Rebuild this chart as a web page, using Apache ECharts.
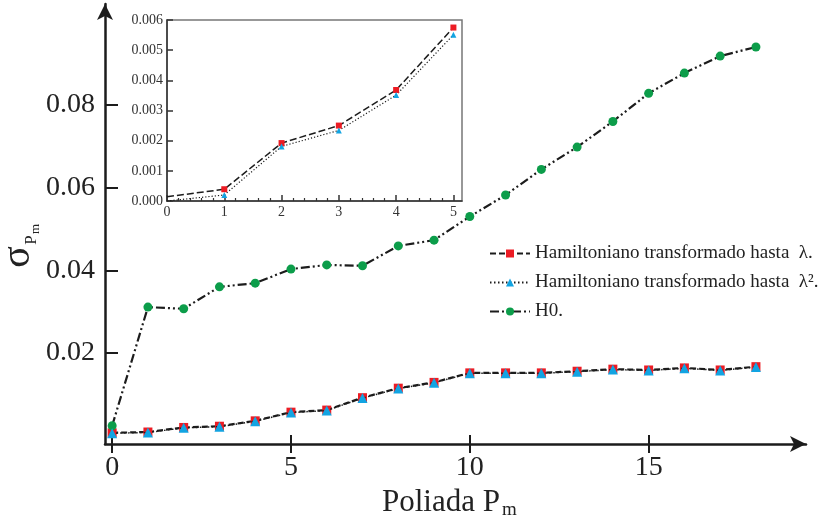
<!DOCTYPE html>
<html>
<head>
    <meta charset="utf-8">
    <title>Poliada</title>
    <script src="https://cdn.jsdelivr.net/npm/echarts@6/dist/echarts.min.js"></script>
    <style>
        html, body { margin: 0; padding: 0; background: #fff; }
        #main { width: 830px; height: 522px; }
    </style>
</head>
<body>
<div id="main"></div>

<script type="text/javascript">
    // 主图数据
    var poliada = [0, 1, 2, 3, 4, 5, 6, 7, 8, 9, 10, 11, 12, 13, 14, 15, 16, 17, 18];
    var lambda1 = [0.0007, 0.0009, 0.0020, 0.0023, 0.0036, 0.0057, 0.0062, 0.0092, 0.0115, 0.0129,
                   0.0152, 0.0152, 0.0152, 0.0156, 0.0161, 0.0159, 0.0164, 0.0159, 0.0167];
    var lambda2 = [0.0006, 0.0008, 0.0019, 0.0022, 0.0035, 0.0056, 0.0061, 0.0091, 0.0114, 0.0128,
                   0.0151, 0.0151, 0.0151, 0.0155, 0.0160, 0.0158, 0.0163, 0.0158, 0.0166];
    var h0 = [0.0024, 0.0311, 0.0307, 0.0360, 0.0369, 0.0403, 0.0413, 0.0411, 0.0459, 0.0473,
              0.0530, 0.0582, 0.0644, 0.0698, 0.0760, 0.0828, 0.0877, 0.0918, 0.0940];

    // 小图数据
    var insetPoliada = [0, 1, 2, 3, 4, 5];
    var insetLambda1 = [0.00014, 0.00039, 0.00192, 0.00250, 0.00368, 0.00575];
    var insetLambda2 = [0.00000, 0.00020, 0.00181, 0.00234, 0.00351, 0.00551];

    // 刻度
    var xTicks = [0, 5, 10, 15];
    var yTicks = [0.02, 0.04, 0.06, 0.08];
    var insetXTicks = [0, 1, 2, 3, 4, 5];

    var names = [
        'Hamiltoniano transformado hasta  λ.',
        'Hamiltoniano transformado hasta  λ².',
        'H0.'
    ];

    var RED = '#ec1c24', BLUE = '#12a4e2', GREEN = '#0c9d4a', INK = '#1c1c1c';
    var FONT = 'Liberation Serif';

    function pairs(xs, ys, hideFirst) {
        return xs.map(function (x, i) {
            if (hideFirst && i === 0) return { value: [x, ys[i]], symbol: 'none' };
            return [x, ys[i]];
        });
    }

    var myChart = echarts.init(document.getElementById('main'));

    myChart.setOption({
        animation: false,
        legend: {
            orient: 'vertical',
            left: 484,
            top: 239,
            itemWidth: 40,
            itemHeight: 10,
            itemGap: 10,
            textStyle: { fontFamily: FONT, fontSize: 19, color: '#222' },
            data: names
        },
        grid: [
            { left: 105, right: 24, top: 4, bottom: 78, outerBoundsMode: 'none' },
            { left: 167, top: 20, width: 295, height: 181, show: true, backgroundColor: '#fff',
              borderColor: '#777', borderWidth: 1.5, outerBoundsMode: 'none' }
        ],
        xAxis: [
            {
                type: 'value', gridIndex: 0, min: -0.2, max: 19.4, position: 'bottom',
                splitLine: { show: false },
                axisLine: { onZero: false, lineStyle: { color: INK, width: 2.5 },
                            symbol: ['none', 'arrow'], symbolSize: [12, 16] },
                axisTick: { customValues: xTicks, length: 9, lineStyle: { color: INK, width: 2 } },
                axisLabel: { customValues: xTicks, margin: 10, fontFamily: FONT, fontSize: 28, color: '#222' }
            },
            {
                // 向内的刻度
                type: 'value', gridIndex: 0, min: -0.2, max: 19.4, position: 'bottom',
                splitLine: { show: false },
                axisLine: { show: false, onZero: false },
                axisTick: { customValues: xTicks, inside: true, length: 9, lineStyle: { color: INK, width: 2 } },
                axisLabel: { show: false }
            },
            {
                type: 'value', gridIndex: 1, min: 0, max: 5.15, interval: 1,
                splitLine: { show: false },
                axisLine: { onZero: false, lineStyle: { color: '#333', width: 1.5 } },
                axisTick: { customValues: insetXTicks, inside: true, length: 6, lineStyle: { color: '#333', width: 1.5 } },
                minorTick: { show: true, splitNumber: 5, length: 3, lineStyle: { color: '#333', width: 1.2 } },
                axisLabel: { customValues: insetXTicks, margin: 4, fontFamily: FONT, fontSize: 14, color: '#333' }
            }
        ],
        yAxis: [
            {
                type: 'value', gridIndex: 0, min: -0.002, max: 0.1044,
                splitLine: { show: false },
                axisLine: { onZero: false, lineStyle: { color: INK, width: 2.5 },
                            symbol: ['none', 'arrow'], symbolSize: [12, 16] },
                axisTick: { customValues: yTicks, inside: true, length: 13, lineStyle: { color: INK, width: 2 } },
                axisLabel: { customValues: yTicks, margin: 10, fontFamily: FONT, fontSize: 28, color: '#222',
                             formatter: function (v) { return v.toFixed(2); } }
            },
            {
                type: 'value', gridIndex: 1, min: 0, max: 0.006, interval: 0.001,
                splitLine: { show: false },
                axisLine: { onZero: false, lineStyle: { color: '#333', width: 1.5 } },
                axisTick: { inside: true, length: 6, lineStyle: { color: '#333', width: 1.5 } },
                axisLabel: { margin: 4, fontFamily: FONT, fontSize: 14, color: '#333',
                             formatter: function (v) { return v.toFixed(3); } }
            }
        ],
        series: [
            {
                name: names[0], type: 'line', xAxisIndex: 0, yAxisIndex: 0,
                data: pairs(poliada, lambda1),
                symbol: 'rect', symbolSize: 9,
                itemStyle: { color: RED },
                lineStyle: { color: INK, width: 2.2, type: [6, 3] },
                z: 3
            },
            {
                name: names[1], type: 'line', xAxisIndex: 0, yAxisIndex: 0,
                data: pairs(poliada, lambda2),
                symbol: 'triangle', symbolSize: 10,
                itemStyle: { color: BLUE },
                lineStyle: { color: INK, width: 1.5, type: [1.5, 2.5] },
                z: 4
            },
            {
                name: names[2], type: 'line', xAxisIndex: 0, yAxisIndex: 0,
                data: pairs(poliada, h0),
                symbol: 'circle', symbolSize: 9,
                itemStyle: { color: GREEN },
                lineStyle: { color: INK, width: 2.2, type: [9, 3, 2, 3, 2, 3] },
                z: 3
            },
            {
                name: names[0], type: 'line', xAxisIndex: 2, yAxisIndex: 1,
                data: pairs(insetPoliada, insetLambda1, true),
                symbol: 'rect', symbolSize: 6,
                itemStyle: { color: RED },
                lineStyle: { color: INK, width: 1.5, type: [7, 3] },
                z: 6
            },
            {
                name: names[1], type: 'line', xAxisIndex: 2, yAxisIndex: 1,
                data: pairs(insetPoliada, insetLambda2, true),
                symbol: 'triangle', symbolSize: 6,
                itemStyle: { color: BLUE },
                lineStyle: { color: INK, width: 1.2, type: [1.2, 2] },
                z: 6
            }
        ],
        graphic: [
            { type: 'text', x: 382, y: 503, style: { text: 'Poliada P', fontFamily: FONT, fontSize: 31, fill: '#222', verticalAlign: 'middle' } },
            { type: 'text', x: 502, y: 510, style: { text: 'm', fontFamily: FONT, fontSize: 19, fill: '#222', verticalAlign: 'middle' } },
            {
                type: 'group', x: 22, y: 257, rotation: Math.PI / 2,
                children: [
                    { type: 'text', x: 0, y: -4, style: { text: 'σ', fontFamily: FONT, fontSize: 40, fill: '#222', align: 'center', verticalAlign: 'middle' } },
                    { type: 'text', x: 17, y: 10, style: { text: 'P', fontFamily: FONT, fontSize: 17, fill: '#222', align: 'center', verticalAlign: 'middle' } },
                    { type: 'text', x: 28, y: 14, style: { text: 'm', fontFamily: FONT, fontSize: 13, fill: '#222', align: 'center', verticalAlign: 'middle' } }
                ]
            }
        ]
    });
</script>
</body>
</html>
